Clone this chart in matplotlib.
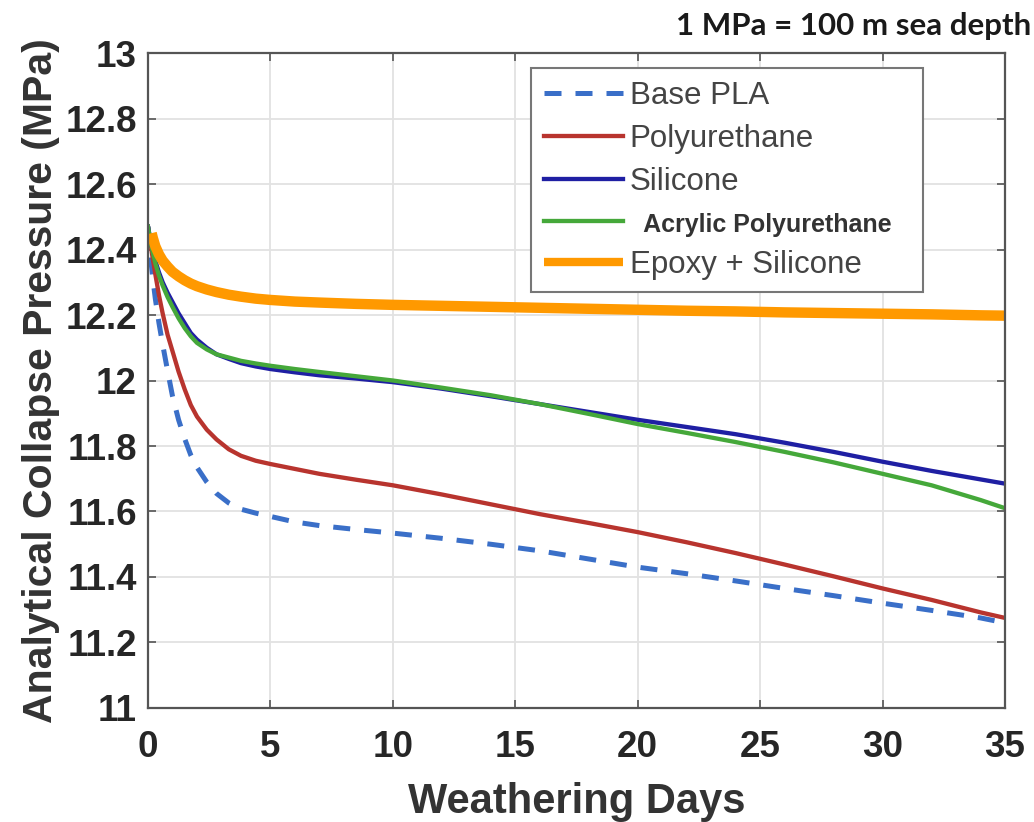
import matplotlib
matplotlib.use('Agg')
import matplotlib.pyplot as plt

# Data (days vs MPa)
days = [0, 0.1, 0.2, 0.3, 0.45, 0.6, 0.8, 1.0, 1.25, 1.5, 1.75, 2.0, 2.4, 2.8, 3.3, 3.8,
        4.4, 5, 6, 7, 8.5, 10, 12, 14, 16, 18, 20, 22, 24, 26, 28, 30, 32, 34, 35]

base_pla = [12.47, 12.38, 12.31, 12.25, 12.175, 12.11, 12.03, 11.953, 11.88, 11.822,
            11.772, 11.735, 11.69, 11.655, 11.626, 11.607, 11.595, 11.585, 11.568, 11.557,
            11.545, 11.534, 11.518, 11.50, 11.48, 11.455, 11.43, 11.41, 11.388, 11.365,
            11.343, 11.32, 11.298, 11.275, 11.26]
polyurethane = [12.47, 12.42, 12.37, 12.325, 12.26, 12.205, 12.14, 12.09, 12.027, 11.973,
                11.925, 11.89, 11.85, 11.82, 11.79, 11.77, 11.755, 11.745, 11.73, 11.715,
                11.697, 11.68, 11.652, 11.622, 11.592, 11.565, 11.537, 11.506, 11.473,
                11.438, 11.402, 11.365, 11.33, 11.292, 11.275]
silicone = [12.47, 12.43, 12.395, 12.365, 12.33, 12.30, 12.268, 12.24, 12.205, 12.175,
            12.145, 12.125, 12.10, 12.08, 12.066, 12.053, 12.043, 12.035, 12.025, 12.016,
            12.006, 11.995, 11.975, 11.952, 11.928, 11.904, 11.88, 11.858, 11.836, 11.81,
            11.782, 11.752, 11.724, 11.698, 11.685]
acrylic_pu = [12.47, 12.425, 12.39, 12.358, 12.32, 12.29, 12.255, 12.225, 12.19, 12.16,
              12.135, 12.115, 12.095, 12.08, 12.07, 12.06, 12.052, 12.045, 12.035, 12.026,
              12.013, 12.0, 11.978, 11.955, 11.928, 11.898, 11.867, 11.84, 11.812, 11.782,
              11.75, 11.715, 11.68, 11.635, 11.61]

epoxy_days = [0.15, 0.2, 0.3, 0.45, 0.6, 0.8, 1.0, 1.25, 1.5, 1.75, 2.0, 2.4, 2.8, 3.3, 3.8,
              4.4, 5, 6, 7, 8.5, 10, 12, 14, 16, 18, 20, 22, 24, 26, 28, 30, 32, 34, 35]
epoxy_silicone = [12.45, 12.435, 12.41, 12.385, 12.366, 12.348, 12.332, 12.318, 12.306,
                  12.296, 12.288, 12.278, 12.27, 12.262, 12.256, 12.25, 12.246, 12.241,
                  12.238, 12.234, 12.231, 12.228, 12.225, 12.222, 12.219, 12.216, 12.213,
                  12.211, 12.208, 12.206, 12.204, 12.202, 12.199, 12.198]

x_ticks = [0, 5, 10, 15, 20, 25, 30, 35]
y_ticks = [11, 11.2, 11.4, 11.6, 11.8, 12, 12.2, 12.4, 12.6, 12.8, 13]
y_labels = ['11', '11.2', '11.4', '11.6', '11.8', '12', '12.2', '12.4', '12.6', '12.8', '13']

plt.rcParams['font.family'] = ['Liberation Sans', 'DejaVu Sans']

fig = plt.figure(figsize=(10.34, 8.22), dpi=100)
ax = fig.add_axes([0.1431, 0.1387, 0.8289, 0.7968])

ax.plot(days, base_pla, color='#3a6fc8', lw=3.6, ls=(0, (3.4, 2.8)), label='Base PLA')
ax.plot(days, polyurethane, color='#b8342e', lw=3.1, label='Polyurethane')
ax.plot(days, silicone, color='#1f1fa3', lw=3.1, label='Silicone')
ax.plot(days, acrylic_pu, color='#45a83a', lw=3.1, label='  Acrylic Polyurethane')
ax.plot(epoxy_days, epoxy_silicone, color='#ff9900', lw=7.5, solid_capstyle='butt',
        label='Epoxy + Silicone')

ax.set_xlim(0, 35)
ax.set_ylim(11, 13)
ax.set_xticks(x_ticks)
ax.set_yticks(y_ticks)
ax.set_yticklabels(y_labels)
ax.grid(True, color='#e2e2e2', lw=1.3)
ax.set_axisbelow(True)

for s in ax.spines.values():
    s.set_color('#555555')
    s.set_linewidth(1.6)

ax.tick_params(direction='in', length=6, width=1.2, color='#555555',
               top=True, right=True, labelsize=26.5, labelcolor='#262626')
ax.tick_params(axis='x', pad=16)
ax.tick_params(axis='y', pad=8)
for lab in ax.get_xticklabels() + ax.get_yticklabels():
    lab.set_fontweight('bold')

ax.set_xlabel('Weathering Days', fontsize=30, fontweight='bold', color='#333333', labelpad=12)
ax.set_ylabel('Analytical Collapse Pressure (MPa)', fontsize=29.5, fontweight='bold',
              color='#333333', labelpad=4)

leg = ax.legend(loc='upper left', bbox_to_anchor=(0.447, 0.0, 0.457, 0.977), mode='expand',
                fontsize=22.5, handlelength=2.55, handletextpad=0.2, labelspacing=0.42,
                borderpad=0.4, borderaxespad=0, fancybox=False, framealpha=1)
leg.get_frame().set_edgecolor('#777777')
leg.get_frame().set_linewidth(1.5)
for i, t in enumerate(leg.get_texts()):
    t.set_color('#444444')
    if i == 3:
        t.set_fontsize(18)
        t.set_fontweight('bold')
        t.set_color('#333333')
for h in leg.get_lines():
    if h.get_linewidth() > 5:
        h.set_linewidth(6)

fig.text(0.997, 0.968, '1 MPa = 100 m sea depth', ha='right', va='center',
         fontsize=22.5, fontweight='bold', family=['Lato', 'DejaVu Sans'], color='#1a1a1a')

fig.savefig('out.png', dpi=100)
